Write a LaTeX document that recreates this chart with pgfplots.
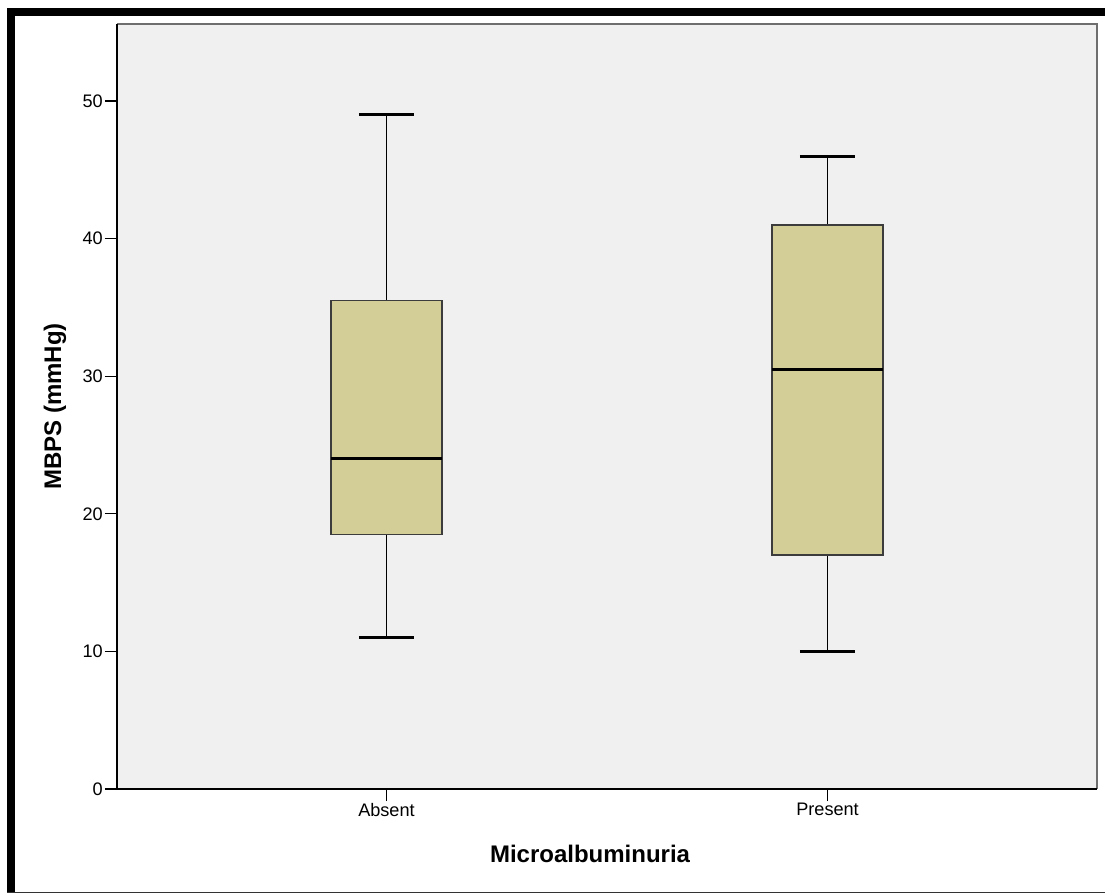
\documentclass[border=0pt]{standalone}
\usepackage{fontspec}
\setmainfont{Liberation Sans}
\usepackage{pgfplots}
\pgfplotsset{compat=1.18}
\definecolor{bg}{HTML}{F0F0F0}
\definecolor{boxfill}{HTML}{D3CE98}
\definecolor{boxedge}{HTML}{3C3C3C}
\definecolor{frameg}{HTML}{6E6E6E}

\begin{document}
\begin{tikzpicture}
\path[use as bounding box] (0,0) rectangle (828.75pt,670.5pt);
\fill[black] (5.6pt,658.5pt) rectangle (828.75pt,664.5pt);
\fill[black] (5.6pt,0.6pt) rectangle (11.25pt,664.5pt);
\draw[black!80, line width=0.75pt] (5.6pt,1pt) -- (828.75pt,1pt);
\begin{axis}[
  at={(87.75pt,78.75pt)}, anchor=south west,
  width=735pt, height=573.75pt, scale only axis,
  xmin=0.389, xmax=2.611, ymin=0, ymax=55.6,
  xtick={1,2}, xticklabels={Absent,Present},
  ytick={0,10,20,30,40,50},
  axis x line*=bottom, axis y line*=left,
  tick align=outside, xtick pos=left, ytick pos=left,
  major tick length=9pt,
  every tick/.style={black, line width=0.9pt},
  axis line style={black, line width=1pt},
  axis background/.style={fill=bg},
  ticklabel style={font=\fontsize{13.6}{15}\selectfont},
  /pgf/number format/assume math mode=true,
  yticklabel style={inner xsep=1.5pt},
  xticklabel style={inner ysep=1.5pt},
  xlabel={Microalbuminuria},
  xlabel style={font=\fontsize{18}{20}\selectfont\bfseries, at={(axis description cs:0.4827,-0.0967)}, anchor=base},
  ylabel={MBPS (mmHg)},
  ylabel style={font=\fontsize{18}{20}\selectfont\bfseries, at={(axis description cs:-0.0571,0.5)}, anchor=base},
  after end axis/.code={%
    \draw[frameg, line width=1.5pt] (rel axis cs:0,1) -- (rel axis cs:1,1) -- (rel axis cs:1,0);
    \draw[black, line width=1pt] (rel axis cs:0,0) -- (rel axis cs:0,1);
    \draw[black, line width=1pt] (rel axis cs:0,0) -- (rel axis cs:1,0);
  },
]
% Absent: whiskers 11 / 49, quartiles 18.5 / 35.5, median 24
\addplot[black, line width=1.4pt, mark=none] coordinates {(1,11) (1,18.5)};
\addplot[black, line width=1.4pt, mark=none] coordinates {(1,35.5) (1,49)};
\addplot[black, line width=2.2pt, mark=none] coordinates {(0.9375,11) (1.0625,11)};
\addplot[black, line width=2.2pt, mark=none] coordinates {(0.9375,49) (1.0625,49)};
\addplot[draw=boxedge, fill=boxfill, line width=1.3pt, mark=none, line join=miter]
  coordinates {(0.874,18.5) (1.126,18.5) (1.126,35.5) (0.874,35.5)} -- cycle;
\addplot[black, line width=2.3pt, mark=none] coordinates {(0.874,24) (1.126,24)};
% Present: whiskers 10 / 46, quartiles 17 / 41, median 30.5
\addplot[black, line width=1.4pt, mark=none] coordinates {(2,10) (2,17)};
\addplot[black, line width=1.4pt, mark=none] coordinates {(2,41) (2,46)};
\addplot[black, line width=2.2pt, mark=none] coordinates {(1.9375,10) (2.0625,10)};
\addplot[black, line width=2.2pt, mark=none] coordinates {(1.9375,46) (2.0625,46)};
\addplot[draw=boxedge, fill=boxfill, line width=1.3pt, mark=none, line join=miter]
  coordinates {(1.874,17) (2.126,17) (2.126,41) (1.874,41)} -- cycle;
\addplot[black, line width=2.3pt, mark=none] coordinates {(1.874,30.5) (2.126,30.5)};
\end{axis}
\end{tikzpicture}
\end{document}
